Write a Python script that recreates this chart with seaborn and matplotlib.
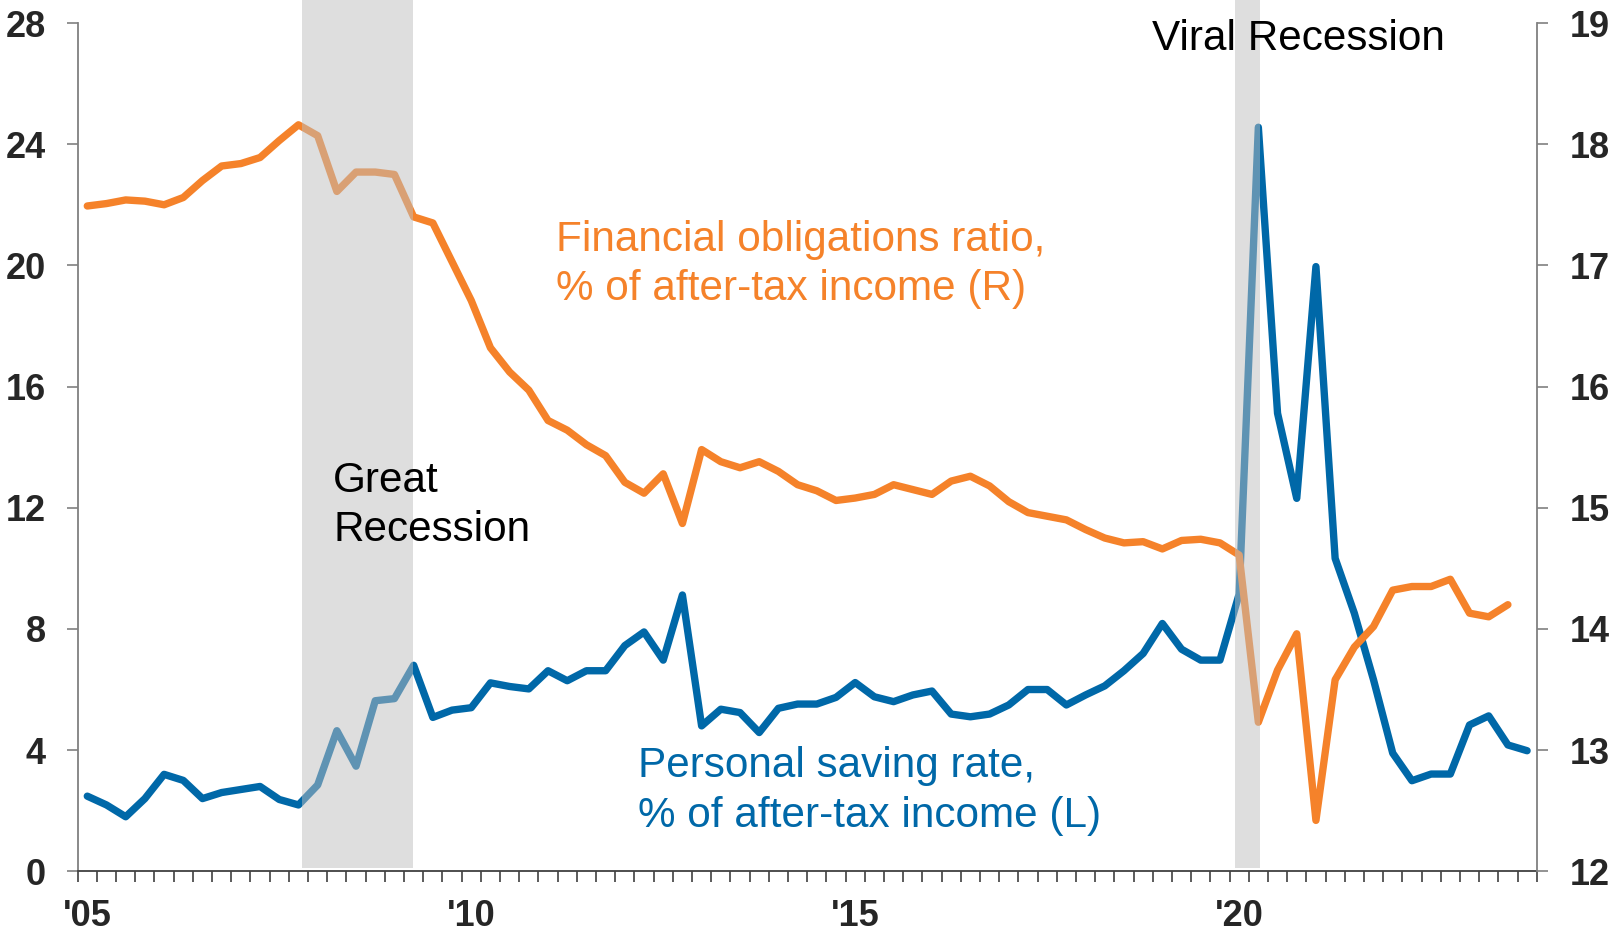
import numpy as np
import pandas as pd
import seaborn as sns
import matplotlib.pyplot as plt

# Quarterly data, 2005Q1 .. 2023Q4 (FOR ends 2023Q3)
quarters = pd.period_range("2005Q1", "2023Q4", freq="Q").astype(str)

saving_rate = [2.48, 2.19, 1.80, 2.40, 3.20, 3.00, 2.40, 2.60, 2.70, 2.80,
               2.37, 2.19, 2.85, 4.64, 3.47, 5.63, 5.70, 6.80, 5.08, 5.32,
               5.40, 6.22, 6.10, 6.02, 6.62, 6.29, 6.62, 6.62, 7.45, 7.90,
               6.97, 9.12, 4.80, 5.35, 5.24, 4.58, 5.38, 5.52, 5.52, 5.74,
               6.23, 5.76, 5.60, 5.82, 5.95, 5.19, 5.10, 5.19, 5.49, 6.00,
               6.00, 5.49, 5.82, 6.12, 6.62, 7.19, 8.18, 7.33, 6.97, 6.97,
               9.15, 24.56, 15.12, 12.31, 19.96, 10.33, 8.52, 6.32, 3.90, 2.99,
               3.21, 3.21, 4.83, 5.13, 4.17, 3.98]

fin_obligations = [17.49, 17.51, 17.54, 17.53, 17.50, 17.56, 17.70, 17.82, 17.84, 17.89,
                   18.03, 18.16, 18.07, 17.61, 17.77, 17.77, 17.75, 17.40, 17.35, 17.03,
                   16.71, 16.32, 16.12, 15.97, 15.72, 15.64, 15.52, 15.43, 15.21, 15.12,
                   15.28, 14.87, 15.48, 15.38, 15.33, 15.38, 15.30, 15.19, 15.14, 15.06,
                   15.08, 15.11, 15.19, 15.15, 15.11, 15.22, 15.26, 15.18, 15.05, 14.96,
                   14.93, 14.90, 14.82, 14.75, 14.71, 14.72, 14.66, 14.73, 14.74, 14.71,
                   14.61, 13.23, 13.66, 13.96, 12.42, 13.58, 13.85, 14.02, 14.32, 14.35,
                   14.35, 14.41, 14.13, 14.10, 14.20]

year_labels = ["'05", "'10", "'15", "'20"]
year_label_quarters = ["2005Q1", "2010Q1", "2015Q1", "2020Q1"]

# recession periods in decimal years
recessions = [(2007.92, 2009.36), (2020.07, 2020.40)]

BLUE = "#0068A8"
ORANGE = "#F5822A"

sns.set_style("ticks")
plt.rcParams["font.family"] = ["Liberation Sans", "DejaVu Sans"]

df_save = pd.DataFrame({"q": np.arange(len(saving_rate)), "v": saving_rate})
df_for = pd.DataFrame({"q": np.arange(len(fin_obligations)), "v": fin_obligations})

fig = plt.figure(figsize=(16.13, 9.32), dpi=100)
ax1 = fig.add_axes([0.04817, 0.06513, 0.90453, 0.91019])
ax2 = ax1.twinx()

sns.lineplot(data=df_save, x="q", y="v", ax=ax1, color=BLUE, linewidth=5.3,
             solid_capstyle="round", solid_joinstyle="round")
sns.lineplot(data=df_for, x="q", y="v", ax=ax2, color=ORANGE, linewidth=5.3,
             solid_capstyle="round", solid_joinstyle="round")

# recession shading drawn over the lines
for start, end in recessions:
    x0 = (start - 2005) * 4 - 0.5
    x1 = (end - 2005) * 4 - 0.5
    ax2.axvspan(x0, x1, ymin=0.004, ymax=1.03, color=(0.745, 0.745, 0.745),
                alpha=0.5, lw=0, zorder=5, clip_on=False)

ax1.set_xlim(-0.5, len(quarters) - 0.5)
ax1.set_ylim(0, 28)
ax2.set_ylim(12, 19)
ax1.set_xlabel("")
ax1.set_ylabel("")
ax2.set_ylabel("")

qpos = {q: i for i, q in enumerate(quarters)}
ax1.set_xticks([qpos[q] for q in year_label_quarters], year_labels,
               fontsize=26, fontweight="bold")
ax1.set_xticks(np.arange(-0.5, len(quarters)), minor=True)
ax1.tick_params(axis="x", which="major", length=0, pad=20)
ax1.tick_params(axis="x", which="minor", length=8, width=1.2, color="#404040",
                direction="out")

ax1.set_yticks(range(0, 29, 4), [str(v) for v in range(0, 29, 4)],
               fontsize=26, fontweight="bold")
ax1.tick_params(axis="y", length=8, width=1.2, color="#808080", pad=15,
                direction="out")
ax2.set_yticks(range(12, 20), [str(v) for v in range(12, 20)],
               fontsize=26, fontweight="bold")
ax2.tick_params(axis="y", length=8, width=1.2, color="#808080", pad=16,
                direction="out")

for s in ["top", "right"]:
    ax1.spines[s].set_visible(False)
for s in ["top", "left", "bottom"]:
    ax2.spines[s].set_visible(False)
ax1.spines["left"].set_color("#808080")
ax1.spines["bottom"].set_color("#404040")
ax2.spines["right"].set_color("#808080")
for sp in [ax1.spines["left"], ax1.spines["bottom"], ax2.spines["right"]]:
    sp.set_linewidth(1.3)

# multi-line text: baseline refers to the last line
txt = dict(fontsize=30.4, va="baseline", ha="left", linespacing=1.3,
           transform=ax1.transData, zorder=10)
ax2.text(55.45, 27.11, "Viral Recession", color="black", **txt)
ax2.text(12.8, 10.9, "Great\nRecession", color="black", **txt)
ax2.text(24.4, 18.86, "Financial obligations ratio,\n% of after-tax income (R)",
         color=ORANGE, **txt)
ax2.text(28.7, 1.47, "Personal saving rate,\n% of after-tax income (L)",
         color=BLUE, **txt)

fig.savefig("out.png", dpi=100)
